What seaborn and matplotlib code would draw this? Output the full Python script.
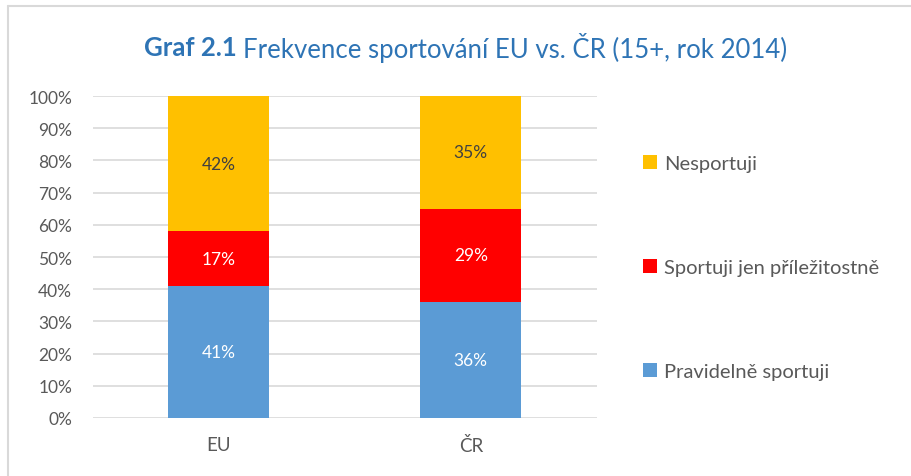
import matplotlib
matplotlib.use("Agg")
import matplotlib.pyplot as plt
import seaborn as sns
import pandas as pd
from matplotlib.lines import Line2D
from matplotlib.patches import Patch

sns.set_theme(style="white")
plt.rcParams['font.family'] = ['Lato', 'DejaVu Sans']

# data
categories = ['EU', 'ČR']
pravidelne = [41, 36]
prilezitostne = [17, 29]
nesportuji = [42, 35]

series = ['Pravidelně sportuji', 'Sportuji jen příležitostně', 'Nesportuji']
values = [pravidelne, prilezitostne, nesportuji]
colors = ['#5B9BD5', '#FF0000', '#FFC000']
label_colors = ['white', 'white', '#404040']

grey = '#595959'

fig = plt.figure(figsize=(9.11, 4.77), dpi=100)
ax = fig.add_axes([0.102, 0.1216, 0.553, 0.675])

bottom = [0, 0]
for name, vals, col, lc in zip(series, values, colors, label_colors):
    df = pd.DataFrame({'cat': categories, 'val': vals})
    sns.barplot(data=df, x='cat', y='val', color=col, width=0.4, bottom=bottom,
                ax=ax, saturation=1, linewidth=0)
    for i, v in enumerate(vals):
        ax.text(i, bottom[i] + v / 2, f'{v}%', ha='center', va='center',
                color=lc, fontsize=12.5)
    bottom = [b + v for b, v in zip(bottom, vals)]

ax.set_ylim(0, 100)
ax.set_xlim(-0.5, 1.5)
ax.set_yticks(range(0, 101, 10))
ax.set_yticklabels([f'{t}%' for t in range(0, 101, 10)])
ax.set_xlabel('')
ax.set_ylabel('')
ax.grid(axis='y', color='#D9D9D9', linewidth=1.2)
ax.set_axisbelow(True)
for s in ax.spines.values():
    s.set_visible(False)
ax.tick_params(axis='y', length=0, pad=15, labelsize=12.5, labelcolor=grey)
ax.tick_params(axis='x', length=0, pad=13, labelsize=13.5, labelcolor=grey)

# legend
handles = [Patch(facecolor=c, edgecolor='none') for c in colors[::-1]]
leg = fig.legend(handles, series[::-1], loc='upper left',
                 bbox_to_anchor=(0.697, 0.69), frameon=False, fontsize=14.5,
                 labelcolor=grey, handlelength=0.68, handleheight=0.68,
                 handletextpad=0.35, labelspacing=4.33, borderaxespad=0)

# title: bold part + normal part
title_color = '#2E74B5'
fig.canvas.draw()
r = fig.canvas.get_renderer()
t1 = fig.text(0, 0.9, 'Graf 2.1 ', fontsize=18.5, fontweight='bold', color=title_color, va='center')
t2 = fig.text(0, 0.9, 'Frekvence sportování EU vs. ČR (15+, rok 2014)', fontsize=18.5,
              color=title_color, va='center')
w1 = t1.get_window_extent(r).width
w2 = t2.get_window_extent(r).width
W = fig.bbox.width
x0 = (466 - (w1 + w2) / 2) / W
t1.set_x(x0)
t2.set_x(x0 + w1 / W)

# chart border
bc = '#D9D9D9'
fig.add_artist(Line2D([8 / 911, 1], [1 - 7 / 477, 1 - 7 / 477], color=bc, linewidth=1.5,
                      transform=fig.transFigure))
fig.add_artist(Line2D([8 / 911, 8 / 911], [0, 1 - 7 / 477], color=bc, linewidth=1.5,
                      transform=fig.transFigure))

fig.savefig('out.png', dpi=100)
